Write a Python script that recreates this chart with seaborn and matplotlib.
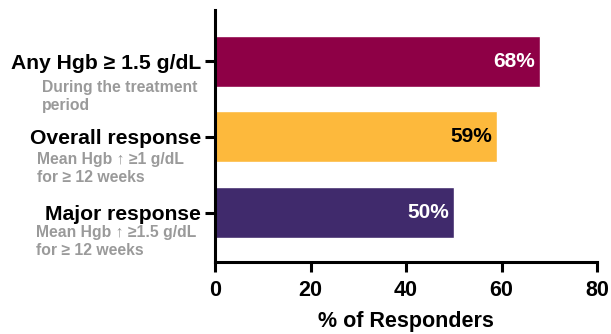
import matplotlib
matplotlib.use("Agg")
import matplotlib.pyplot as plt
import matplotlib.transforms as mtransforms
import seaborn as sns
import pandas as pd

categories = ["Any Hgb \u2265 1.5 g/dL", "Overall response", "Major response"]
subtitles = ["During the treatment\nperiod",
             "Mean Hgb \u2191 \u22651 g/dL\nfor \u2265 12 weeks",
             "Mean Hgb \u2191 \u22651.5 g/dL\nfor \u2265 12 weeks"]
responders = [68, 59, 50]
value_labels = ["68%", "59%", "50%"]
x_ticks = [0, 20, 40, 60, 80]

bar_colors = ["#8E0046", "#FDB93C", "#402A6C"]
label_colors = ["white", "black", "white"]

sns.set_theme(style="white")
plt.rcParams["font.family"] = ["Liberation Sans", "DejaVu Sans"]
plt.rcParams["text.color"] = "black"
plt.rcParams["xtick.color"] = "black"
plt.rcParams["ytick.color"] = "black"
plt.rcParams["axes.labelcolor"] = "black"

df = pd.DataFrame({"category": categories, "pct": responders})

fig = plt.figure(figsize=(6.11, 3.34), dpi=100)
ax = fig.add_axes([215 / 611, 1 - 262 / 334, 382 / 611, 252 / 334])

sns.barplot(data=df, x="pct", y="category", hue="category",
            palette=bar_colors, orient="h", width=0.675,
            legend=False, ax=ax, saturation=1)

ax.set_xlim(0, 80)
ax.set_ylim(2.655, -0.68)
ax.set_xticks(x_ticks)
ax.set_xticklabels([str(t) for t in x_ticks], fontsize=15.5, fontweight="bold")
ax.set_yticks(range(len(categories)))
ax.set_yticklabels(categories, fontsize=15.2, fontweight="bold")
ax.set_xlabel("% of Responders", fontsize=15.5, fontweight="bold", labelpad=7)
ax.set_ylabel("")

for side in ["top", "right"]:
    ax.spines[side].set_visible(False)
for side in ["left", "bottom"]:
    ax.spines[side].set_color("black")
    ax.spines[side].set_linewidth(2.2)
ax.tick_params(axis="both", which="major", direction="out", length=7,
               width=2.2, color="black", left=True, bottom=True)
ax.tick_params(axis="x", pad=6)
ax.tick_params(axis="y", pad=3)

# value labels inside the bar ends
for i, (v, txt, c) in enumerate(zip(responders, value_labels, label_colors)):
    ax.text(v - 0.9, i, txt, ha="right", va="center", color=c,
            fontsize=15, fontweight="bold")

# grey descriptions under each category label
trans = mtransforms.blended_transform_factory(fig.transFigure, ax.transData)
sub_x = [42 / 611, 37 / 611, 36 / 611]
sub_dy = [0.47, 0.42, 0.39]
for i, s in enumerate(subtitles):
    ax.text(sub_x[i], i + sub_dy[i], s, transform=trans, ha="left",
            va="center", color="#9A9A9A", fontsize=11.3, fontweight="bold",
            linespacing=1.25, clip_on=False)

fig.savefig("out.png", dpi=100)
